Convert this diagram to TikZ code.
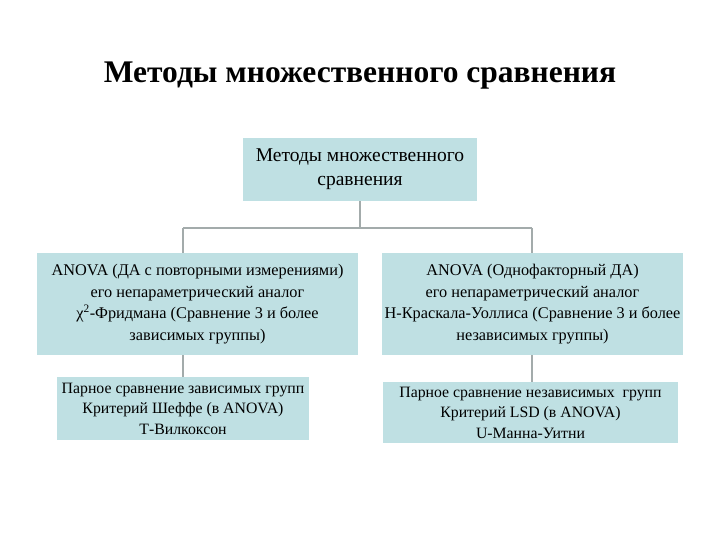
\documentclass[tikz,border=0pt]{standalone}
\usepackage{fontspec}
\setmainfont{Liberation Serif}
\usepackage{tikz}
\usetikzlibrary{positioning}
\definecolor{BoxTeal}{HTML}{BFE0E3}
\definecolor{LineGrey}{HTML}{A3ABAB}

\begin{document}
\begin{tikzpicture}[x=1pt, y=-1pt,
  method/.style={fill=BoxTeal, inner sep=0pt, align=center,
                 font=\fontsize{16.3}{21.5}\selectfont},
  link/.style={draw=LineGrey, line width=1.6pt}
]
\useasboundingbox (0,0) rectangle (720,540);
\node[font=\fontsize{31.5}{36}\selectfont\bfseries] (title) at (360,76)
  {Методы множественного сравнения};
\node[method, minimum width=234pt, minimum height=63pt,
      font=\fontsize{19.5}{24}\selectfont] (root) at (360,169.5)
  {Методы множественного\\сравнения};
\node[method, minimum width=321pt, minimum height=102pt] (dep) at (197.5,304)
  {ANOVA (ДА с повторными измерениями)\\
   его непараметрический аналог\\
   χ\textsuperscript{2}-Фридмана (Сравнение 3 и более\\
   зависимых группы)};
\node[method, minimum width=301pt, minimum height=102pt] (indep) at (532.5,304)
  {ANOVA (Однофакторный ДА)\\
   его непараметрический аналог\\
   Н-Краскала-Уоллиса (Сравнение 3 и более\\
   независимых группы)};
\node[method, minimum width=252pt, minimum height=63pt,
      font=\fontsize{15.8}{20.5}\selectfont] (pairdep) at (183,408.5)
  {Парное сравнение зависимых групп\\
   Критерий Шеффе (в ANOVA)\\
   Т-Вилкоксон};
\node[method, minimum width=295pt, minimum height=61pt,
      font=\fontsize{15.8}{20.5}\selectfont] (pairindep) at (530.5,412.5)
  {Парное сравнение независимых\ \ групп\\
   Критерий LSD (в ANOVA)\\
   U-Манна-Уитни};
% tree connectors
\coordinate (split) at (360,228);
\coordinate (jl) at (183,228);
\coordinate (jr) at (532,228);
\draw[link] (root.south) -- (split);
\draw[link] (jl) -- (jr);
\draw[link] (jl) -- (jl |- dep.north);
\draw[link] (jr) -- (jr |- indep.north);
\draw[link] (dep.south -| jl) -- (pairdep.north -| jl);
\draw[link] (indep.south -| jr) -- (pairindep.north -| jr);
\end{tikzpicture}
\end{document}
